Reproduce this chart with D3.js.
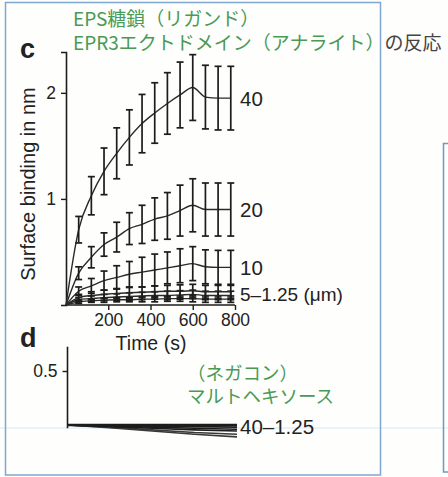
<!DOCTYPE html>
<html>
<head>
<meta charset="utf-8">
<script src="https://cdn.jsdelivr.net/npm/d3@7/dist/d3.min.js"></script>
<style>
  html, body { margin: 0; padding: 0; background: #fefefc; }
  svg { display: block; }
  text { font-family: "Liberation Sans", Arial, Helvetica, sans-serif; fill: #222; }
  .jp { font-family: "Noto Sans CJK JP", "Noto Sans", sans-serif; }
</style>
</head>
<body>
<svg id="chart" width="448" height="477"></svg>
<script>
// Sampling times (s) of the association/dissociation curves in panel c
const times = [60, 120, 180, 240, 300, 360, 420, 480, 540, 600, 660, 720, 780];

// Surface binding (nm) per analyte concentration, with error half-widths
const bind40  = [0.71, 1.03, 1.26, 1.43, 1.58, 1.71, 1.81, 1.90, 1.98, 2.05, 1.96, 1.95, 1.95];
const err40   = [0.125, 0.18, 0.22, 0.24, 0.26, 0.275, 0.285, 0.29, 0.31, 0.31, 0.30, 0.30, 0.30];
const bind20  = [0.30, 0.45, 0.57, 0.64, 0.72, 0.76, 0.81, 0.84, 0.89, 0.94, 0.90, 0.90, 0.90];
const err20   = [0.06, 0.10, 0.11, 0.14, 0.15, 0.18, 0.20, 0.22, 0.24, 0.25, 0.25, 0.25, 0.25];
const bind10  = [0.13, 0.18, 0.23, 0.26, 0.29, 0.31, 0.33, 0.35, 0.37, 0.39, 0.36, 0.355, 0.355];
const err10   = [0.04, 0.07, 0.09, 0.11, 0.12, 0.14, 0.15, 0.15, 0.16, 0.16, 0.16, 0.16, 0.16];
const bind5   = [0.07, 0.09, 0.10, 0.11, 0.115, 0.12, 0.125, 0.13, 0.13, 0.135, 0.125, 0.125, 0.125];
const err5    = [0.03, 0.035, 0.04, 0.045, 0.05, 0.05, 0.055, 0.055, 0.06, 0.06, 0.06, 0.06, 0.06];
const bind2_5 = [0.05, 0.06, 0.07, 0.075, 0.08, 0.085, 0.09, 0.09, 0.095, 0.10, 0.09, 0.09, 0.09];
const err2_5  = [0.02, 0.025, 0.03, 0.03, 0.035, 0.035, 0.035, 0.04, 0.04, 0.04, 0.04, 0.04, 0.04];
const bind1_25 = [0.03, 0.04, 0.045, 0.05, 0.05, 0.055, 0.055, 0.06, 0.06, 0.06, 0.055, 0.055, 0.055];
const err1_25  = [0.015, 0.015, 0.02, 0.02, 0.02, 0.025, 0.025, 0.025, 0.025, 0.03, 0.03, 0.03, 0.03];

// Panel d: maltohexaose control, sampled every 200 s
const timesD = [0, 200, 400, 600, 800];
const ctrl40   = [0, 0.000, 0.000, 0.000, 0.000];
const ctrl20   = [0, -0.005, -0.010, -0.015, -0.020];
const ctrl10   = [0, -0.010, -0.020, -0.030, -0.040];
const ctrl5    = [0, -0.015, -0.030, -0.045, -0.055];
const ctrl2_5  = [0, -0.020, -0.045, -0.070, -0.085];
const ctrl1_25 = [0, -0.025, -0.055, -0.085, -0.110];

// Tick values and curve labels
const xTicks = [200, 400, 600, 800];
const yTicksC = [1, 2];
const yTicksD = [0.5];
const seriesLabels = ["40", "20", "10", "5\u20131.25 (\u03bcm)"];
const labelValues = [1.95, 0.90, 0.355, 0.10];

const svg = d3.select("#chart");
const ink = "#1c1c1c";

// Background and framing boxes
svg.append("rect").attr("width", 448).attr("height", 477).attr("fill", "#fefefc");
svg.append("line").attr("x1", 0).attr("x2", 448).attr("y1", 428).attr("y2", 428)
  .attr("stroke", "#d6e7f5").attr("stroke-width", 1.2);
svg.append("rect").attr("x", 5.5).attr("y", 2.5).attr("width", 375).attr("height", 472.5)
  .attr("fill", "none").attr("stroke", "#7fa7cf").attr("stroke-width", 1.5);
svg.append("rect").attr("x", 443.5).attr("y", 143.5).attr("width", 30).attr("height", 328.5)
  .attr("fill", "none").attr("stroke", "#6f98c4").attr("stroke-width", 1.5);

// ---- Panel c ----
const x = d3.scaleLinear().domain([0, 800]).range([66, 235]);
const y = d3.scaleLinear().domain([0, 2.385]).range([305, 52]);

const gx = svg.append("g").attr("transform", `translate(0,${y(0)})`)
  .call(d3.axisBottom(x).tickValues(xTicks).tickSizeOuter(0).tickSize(5).tickPadding(4));
const gy = svg.append("g").attr("transform", `translate(${x(0)},0)`)
  .call(d3.axisLeft(y).tickValues(yTicksC).tickSizeOuter(0).tickSize(5).tickPadding(5)
    .tickFormat(d3.format("d")));
[gx, gy].forEach(g => {
  g.select(".domain").attr("stroke", ink).attr("stroke-width", 1.6);
  g.selectAll(".tick line").attr("stroke", ink).attr("stroke-width", 1.4);
  g.selectAll(".tick text").attr("fill", "#222").style("font-size", "17.5px")
    .style("font-family", "'Liberation Sans', Arial, sans-serif");
});
gx.select(".domain").attr("d", `M${x(0)},0H${x(800)}`);

svg.append("text").attr("x", 151).attr("y", 350).attr("text-anchor", "middle")
  .style("font-size", "19.5px").text("Time (s)");
svg.append("text")
  .attr("transform", `translate(35,184) rotate(-90)`)
  .attr("text-anchor", "middle").style("font-size", "20px").text("Surface binding in nm");
svg.append("text").attr("x", 20).attr("y", 58).style("font-size", "27px")
  .style("font-weight", "bold").text("c");

const seriesC = [
  [bind1_25, err1_25], [bind2_5, err2_5], [bind5, err5],
  [bind10, err10], [bind20, err20], [bind40, err40]
];
const line = d3.line().x(d => x(d[0])).y(d => y(d[1])).curve(d3.curveMonotoneX);

seriesC.forEach(([vals, errs]) => {
  const pts = [[0, 0]].concat(times.map((t, i) => [t, vals[i]]));
  svg.append("path").attr("d", line(pts)).attr("fill", "none")
    .attr("stroke", "#2a2a2a").attr("stroke-width", 1.4);
  const bars = svg.append("g").attr("stroke", ink).attr("stroke-width", 1.7).attr("fill", "none");
  times.forEach((t, i) => {
    const cx = x(t), top = y(vals[i] + errs[i]), bot = y(vals[i] - errs[i]);
    bars.append("line").attr("x1", cx).attr("x2", cx).attr("y1", top).attr("y2", bot);
    bars.append("line").attr("x1", cx - 3.5).attr("x2", cx + 3.5).attr("y1", top).attr("y2", top);
    bars.append("line").attr("x1", cx - 3.5).attr("x2", cx + 3.5).attr("y1", bot).attr("y2", bot);
  });
});

seriesLabels.forEach((lab, i) => {
  svg.append("text").attr("x", 240).attr("y", y(labelValues[i])).attr("dy", "0.36em")
    .style("font-size", i === 3 ? "19px" : "20.5px").text(lab);
});

// ---- Panel d ----
const yD = d3.scaleLinear().domain([0, 0.725]).range([425, 346.7]);
svg.append("text").attr("x", 20).attr("y", 346.5).style("font-size", "27px")
  .style("font-weight", "bold").text("d");
const gyD = svg.append("g").attr("transform", `translate(67.5,0)`)
  .call(d3.axisLeft(yD).tickValues(yTicksD).tickSizeOuter(0).tickSize(5).tickPadding(5)
    .tickFormat(d3.format(".1f")));
gyD.select(".domain").attr("d", `M0,${yD(0.725)}V${yD(-0.03)}`)
  .attr("stroke", ink).attr("stroke-width", 1.6);
gyD.selectAll(".tick line").attr("stroke", ink).attr("stroke-width", 1.4);
gyD.selectAll(".tick text").attr("fill", "#222").style("font-size", "17.5px")
  .style("font-family", "'Liberation Sans', Arial, sans-serif");

const xD = d3.scaleLinear().domain([0, 800]).range([67, 237]);
const lineD = d3.line().x((d, i) => xD(timesD[i])).y(d => yD(d));
[ctrl1_25, ctrl2_5, ctrl5, ctrl10, ctrl20, ctrl40].forEach((s, i) => {
  svg.append("path").attr("d", lineD(s)).attr("fill", "none")
    .attr("stroke", i < 2 ? "#3a3a3a" : ink).attr("stroke-width", i === 5 ? 2.4 : 1.6);
});
svg.append("text").attr("x", 240).attr("y", 426.5).attr("dy", "0.36em")
  .style("font-size", "20.5px").text("40\u20131.25");

// ---- Annotations ----
const green = "#4a9a55";
svg.append("text").attr("class", "jp").attr("x", 73).attr("y", 26)
  .style("font-size", "19px").style("fill", green).text("EPS糖鎖（リガンド）");
const t2 = svg.append("text").attr("class", "jp").attr("x", 73).attr("y", 49.5)
  .style("font-size", "19px");
t2.append("tspan").style("fill", green).text("EPR3エクトドメイン（アナライト）");
t2.append("tspan").style("fill", "#444").text("の反応");

svg.append("text").attr("class", "jp").attr("x", 187).attr("y", 380)
  .style("font-size", "18.5px").style("fill", green).text("（ネガコン）");
svg.append("text").attr("class", "jp").attr("x", 187).attr("y", 403)
  .style("font-size", "18.5px").style("fill", green).text("マルトヘキソース");
</script>
</body>
</html>
